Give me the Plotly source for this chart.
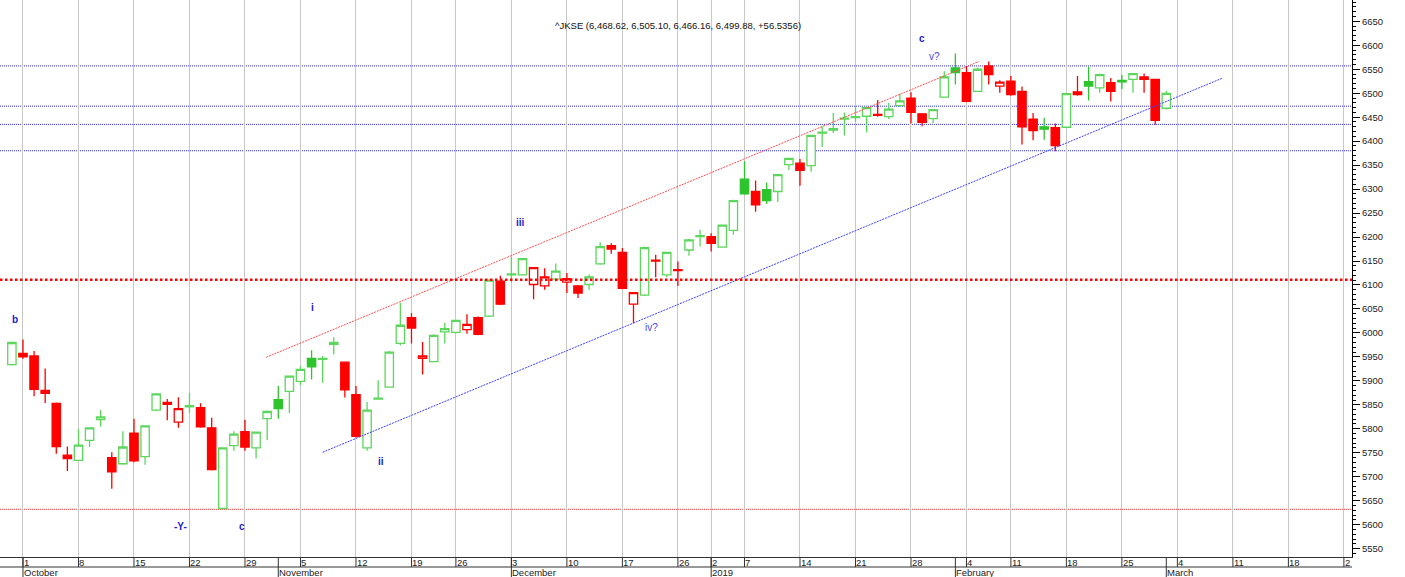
import pandas as pd
import plotly.graph_objects as go

# ---------------- data ----------------
dates = [
    "2018-09-28",
    "2018-10-01", "2018-10-02", "2018-10-03", "2018-10-04", "2018-10-05",
    "2018-10-08", "2018-10-09", "2018-10-10", "2018-10-11", "2018-10-12",
    "2018-10-15", "2018-10-16", "2018-10-17", "2018-10-18", "2018-10-19",
    "2018-10-22", "2018-10-23", "2018-10-24", "2018-10-25", "2018-10-26",
    "2018-10-29", "2018-10-30", "2018-10-31", "2018-11-01", "2018-11-02",
    "2018-11-05", "2018-11-06", "2018-11-07", "2018-11-08", "2018-11-09",
    "2018-11-12", "2018-11-13", "2018-11-14", "2018-11-15", "2018-11-16",
    "2018-11-19", "2018-11-21", "2018-11-22", "2018-11-23",
    "2018-11-26", "2018-11-27", "2018-11-28", "2018-11-29", "2018-11-30",
    "2018-12-03", "2018-12-04", "2018-12-05", "2018-12-06", "2018-12-07",
    "2018-12-10", "2018-12-11", "2018-12-12", "2018-12-13", "2018-12-14",
    "2018-12-17", "2018-12-18", "2018-12-19", "2018-12-20", "2018-12-21",
    "2018-12-26", "2018-12-27", "2018-12-28",
    "2019-01-02", "2019-01-03", "2019-01-04",
    "2019-01-07", "2019-01-08", "2019-01-09", "2019-01-10", "2019-01-11",
    "2019-01-14", "2019-01-15", "2019-01-16", "2019-01-17", "2019-01-18",
    "2019-01-21", "2019-01-22", "2019-01-23", "2019-01-24", "2019-01-25",
    "2019-01-28", "2019-01-29", "2019-01-30", "2019-01-31", "2019-02-01",
    "2019-02-04", "2019-02-06", "2019-02-07", "2019-02-08",
    "2019-02-11", "2019-02-12", "2019-02-13", "2019-02-14", "2019-02-15",
    "2019-02-18", "2019-02-19", "2019-02-20", "2019-02-21", "2019-02-22",
    "2019-02-25", "2019-02-26", "2019-02-27", "2019-02-28", "2019-03-01",
]
opens = [
    5934,
    5957, 5952, 5880, 5853, 5745,
    5734, 5776, 5819, 5740, 5727,
    5791, 5742, 5839, 5855, 5814,
    5846, 5844, 5802, 5634, 5765,
    5794, 5760, 5821, 5861, 5878,
    5899, 5947, 5945, 5976, 5939,
    5871, 5760, 5862, 5887, 5978,
    6032, 5947, 5940, 6002,
    6001, 6007, 6032, 6035, 6108,
    6121, 6121, 6101, 6098, 6112,
    6106, 6098, 6101, 6144, 6182,
    6168, 6060, 6079, 6152, 6121,
    6132, 6173, 6201,
    6201, 6179, 6214,
    6321, 6295, 6299, 6295, 6351,
    6354, 6349, 6417, 6423, 6446,
    6449, 6452, 6456, 6451, 6474,
    6490, 6457, 6447, 6492, 6553,
    6543, 6504, 6557, 6515,
    6525, 6504, 6446, 6430, 6428,
    6429, 6503, 6524, 6511, 6522,
    6527, 6529, 6534, 6529, 6468.62,
]
highs = [
    5982,
    5986, 5962, 5926, 5855, 5763,
    5800, 5803, 5839, 5751, 5795,
    5821, 5807, 5874, 5862, 5866,
    5875, 5853, 5823, 5761, 5795,
    5819, 5794, 5838, 5889, 5911,
    5931, 5964, 5952, 5991, 5940,
    5889, 5856, 5901, 5962, 6063,
    6041, 5981, 5997, 6021,
    6027, 6039, 6034, 6112, 6119,
    6159, 6156, 6137, 6135, 6145,
    6125, 6100, 6122, 6189, 6187,
    6177, 6085, 6180, 6163, 6169,
    6149, 6196, 6215,
    6208, 6226, 6278,
    6358, 6318, 6314, 6331, 6365,
    6363, 6413, 6431, 6459, 6460,
    6473, 6471, 6486, 6480, 6499,
    6502, 6458, 6467, 6546, 6583,
    6557, 6553, 6566, 6527,
    6536, 6514, 6459, 6449, 6437,
    6501, 6536, 6555, 6541, 6532,
    6538, 6542, 6541, 6530, 6505.10,
]
lows = [
    5932,
    5946, 5868, 5854, 5748, 5712,
    5732, 5762, 5804, 5675, 5725,
    5730, 5725, 5837, 5818, 5802,
    5833, 5802, 5713, 5632, 5754,
    5754, 5738, 5776, 5821, 5833,
    5891, 5903, 5896, 5955, 5865,
    5782, 5754, 5861, 5886, 5974,
    5978, 5913, 5939, 5978,
    5999, 5998, 5995, 6033, 6058,
    6105, 6120, 6070, 6090, 6107,
    6083, 6073, 6090, 6142, 6165,
    6091, 6020, 6077, 6116, 6116,
    6098, 6161, 6180,
    6170, 6178, 6205,
    6288, 6253, 6269, 6273, 6340,
    6307, 6336, 6388, 6417, 6412,
    6441, 6418, 6451, 6446, 6472,
    6437, 6431, 6438, 6491, 6518,
    6481, 6503, 6518, 6501,
    6495, 6393, 6402, 6403, 6379,
    6427, 6495, 6485, 6501, 6483,
    6509, 6501, 6501, 6434, 6466.16,
]
closes = [
    5980,
    5950, 5882, 5874, 5763, 5738,
    5766, 5802, 5825, 5710, 5762,
    5733, 5806, 5873, 5851, 5842,
    5848, 5804, 5715, 5760, 5789,
    5762, 5793, 5836, 5842, 5910,
    5924, 5929, 5947, 5980, 5881,
    5784, 5839, 5864, 5960, 6016,
    6010, 5952, 5995, 6009,
    6026, 6018, 5997, 6110, 6060,
    6123, 6155, 6136, 6117, 6129,
    6113, 6083, 6117, 6180, 6175,
    6093, 6084, 6178, 6150, 6168,
    6130, 6194, 6203,
    6187, 6225, 6276,
    6290, 6267, 6276, 6330, 6364,
    6339, 6412, 6419, 6426, 6448,
    6451, 6470, 6454, 6467, 6484,
    6460, 6439, 6466, 6534, 6543,
    6483, 6550, 6539, 6523,
    6497, 6430, 6422, 6425, 6391,
    6499, 6497, 6515, 6539, 6504,
    6524, 6541, 6529, 6443.34, 6499.88,
]

title_text = "^JKSE (6,468.62, 6,505.10, 6,466.16, 6,499.88, +56.5356)"

blue_levels = [6557, 6473, 6435, 6380]
red_level_thick = [6111]
red_level_thin = [5632]

# hand-drawn channel lines (start/end in trading-day index, price)
upper_channel_x = [21.9, 86.1]
upper_channel_y = [5949, 6566]
lower_channel_x = [27.0, 108.0]
lower_channel_y = [5751, 6531]

wave_labels = ["b", "-Y-", "c", "i", "ii", "iii", "iv?", "c", "v?"]
wave_x = [-0.72, 14.2, 19.7, 26.1, 32.25, 44.8, 56.6, 81.0, 82.1]
wave_y = [6029, 5596, 5596, 6052, 5732, 6230, 6012, 6614, 6577]
wave_bold = [True, True, True, True, True, True, False, True, False]

month_names = {10: "October", 11: "November", 12: "December", 1: "2019",
               2: "February", 3: "March"}

# ---------------- axis calendar ----------------
future_dates = pd.bdate_range("2019-03-04", "2019-03-29").strftime("%Y-%m-%d").tolist()
calendar = dates + future_dates
cal_ts = pd.to_datetime(calendar)
pos = {d: i - 1 for i, d in enumerate(calendar)}
xs = [pos[d] for d in dates]

week_ticks, week_text = [], []
month_ticks, month_text = [], []
for i in range(1, len(cal_ts)):
    if cal_ts[i].isocalendar()[1] != cal_ts[i - 1].isocalendar()[1]:
        week_ticks.append(i - 1)
        week_text.append(str(cal_ts[i].day))
    if cal_ts[i].month != cal_ts[i - 1].month:
        month_ticks.append(i - 1)
        month_text.append(month_names[cal_ts[i].month])
# last weekly label is clipped by the price axis in the reference
week_text[-1] = week_text[-1][:1]

# ---------------- split by colour (close vs previous close) ----------------
groups = {"g": dict(x=[], o=[], h=[], l=[], c=[]), "r": dict(x=[], o=[], h=[], l=[], c=[])}
for k in range(len(dates)):
    prev = closes[k - 1] if k > 0 else opens[k]
    key = "g" if closes[k] >= prev else "r"
    g = groups[key]
    g["x"].append(xs[k]); g["o"].append(opens[k]); g["h"].append(highs[k])
    g["l"].append(lows[k]); g["c"].append(closes[k])

GREEN_HOLLOW = "#5cd65c"
GREEN_FILL = "#2ec42e"
RED = "#ff0000"

fig = go.Figure()
fig.add_trace(go.Candlestick(
    x=groups["g"]["x"], open=groups["g"]["o"], high=groups["g"]["h"],
    low=groups["g"]["l"], close=groups["g"]["c"],
    increasing=dict(line=dict(color=GREEN_HOLLOW, width=1.3), fillcolor="white"),
    decreasing=dict(line=dict(color=GREEN_FILL, width=1.3), fillcolor=GREEN_FILL),
    showlegend=False, hoverinfo="skip"))
fig.add_trace(go.Candlestick(
    x=groups["r"]["x"], open=groups["r"]["o"], high=groups["r"]["h"],
    low=groups["r"]["l"], close=groups["r"]["c"],
    increasing=dict(line=dict(color=RED, width=1.3), fillcolor="white"),
    decreasing=dict(line=dict(color=RED, width=1.3), fillcolor=RED),
    showlegend=False, hoverinfo="skip"))

# channel lines
fig.add_trace(go.Scatter(x=upper_channel_x, y=upper_channel_y, mode="lines",
                         line=dict(color="#ff5050", width=1, dash="2px,1px"),
                         showlegend=False, hoverinfo="skip"))
fig.add_trace(go.Scatter(x=lower_channel_x, y=lower_channel_y, mode="lines",
                         line=dict(color="#4040ff", width=1, dash="2px,1px"),
                         showlegend=False, hoverinfo="skip"))

shapes = []
for v in blue_levels:
    shapes.append(dict(type="line", xref="paper", x0=0, x1=1, yref="y", y0=v, y1=v,
                       line=dict(color="#3030ff", width=1, dash="1px,1px"), layer="below"))
for v in red_level_thick:
    shapes.append(dict(type="line", xref="paper", x0=0, x1=1, yref="y", y0=v, y1=v,
                       line=dict(color="#ff0000", width=2.6, dash="2.5px,2.5px"), layer="above"))
for v in red_level_thin:
    shapes.append(dict(type="line", xref="paper", x0=0, x1=1, yref="y", y0=v, y1=v,
                       line=dict(color="#ff3030", width=1, dash="1px,1px"), layer="below"))

PLOT_H = 557.0
row1 = -10 / PLOT_H
row2 = -20 / PLOT_H
shapes.append(dict(type="line", xref="paper", x0=0, x1=1, yref="paper", y0=row1, y1=row1,
                   line=dict(color="#333333", width=1)))
for t in week_ticks:
    shapes.append(dict(type="line", xref="x", x0=t, x1=t, yref="paper", y0=0, y1=row1,
                       line=dict(color="#333333", width=1)))
for t in month_ticks:
    shapes.append(dict(type="line", xref="x", x0=t, x1=t, yref="paper", y0=0, y1=row2,
                       line=dict(color="#333333", width=1)))

annotations = []
for t, s in zip(week_ticks, week_text):
    annotations.append(dict(x=t, xref="x", y=row1 / 2, yref="paper", text=s,
                            showarrow=False, xanchor="left", yanchor="middle", xshift=-1,
                            font=dict(family="Liberation Sans, Arial", size=9.5, color="#222")))
for t, s in zip(month_ticks, month_text):
    annotations.append(dict(x=t, xref="x", y=(row1 + row2) / 2, yref="paper", text=s,
                            showarrow=False, xanchor="left", yanchor="middle", xshift=-1,
                            font=dict(family="Liberation Sans, Arial", size=9.5, color="#222")))
for s, xv, yv, b in zip(wave_labels, wave_x, wave_y, wave_bold):
    annotations.append(dict(x=xv, y=yv, xref="x", yref="y",
                            text=("<b>%s</b>" % s) if b else s, showarrow=False,
                            font=dict(family="Liberation Sans, Arial", size=10,
                                      color="#1a1acc" if b else "#4a4ae0")))
annotations.append(dict(x=0.5015, xref="paper", y=1 - 18 / PLOT_H, yref="paper",
                        text=title_text, showarrow=False,
                        font=dict(family="Liberation Sans, Arial", size=9.5, color="#111")))

fig.update_layout(
    width=1405, height=577,
    margin=dict(l=0, r=53, t=0, b=20),
    paper_bgcolor="white", plot_bgcolor="white",
    showlegend=False,
    boxgap=0.25, boxgroupgap=0.0,
    shapes=shapes, annotations=annotations,
    xaxis=dict(range=[-2.07, 119.73], tickmode="array", tickvals=week_ticks,
               showticklabels=False, ticks="", showgrid=True, gridcolor="#c8c8c8",
               gridwidth=1.2, zeroline=False, showline=True, linecolor="#333333",
               linewidth=1, rangeslider=dict(visible=False)),
    yaxis=dict(side="right", range=[5532.5, 6694.5], tickmode="linear", tick0=5550,
               dtick=50, ticks="outside", ticklen=7, tickcolor="black", tickwidth=1,
               showline=True, linecolor="black", linewidth=1, showgrid=False,
               zeroline=False,
               tickfont=dict(family="Liberation Sans, Arial", size=9.5, color="#222"),
               minor=dict(tick0=5550, dtick=10, ticks="outside", ticklen=3,
                          tickcolor="black", showgrid=False)),
)

fig.write_html("out.html",
               config={"displayModeBar": False},
               post_script="document.body.style.margin='0px';"
                           "document.body.style.overflow='hidden';")
